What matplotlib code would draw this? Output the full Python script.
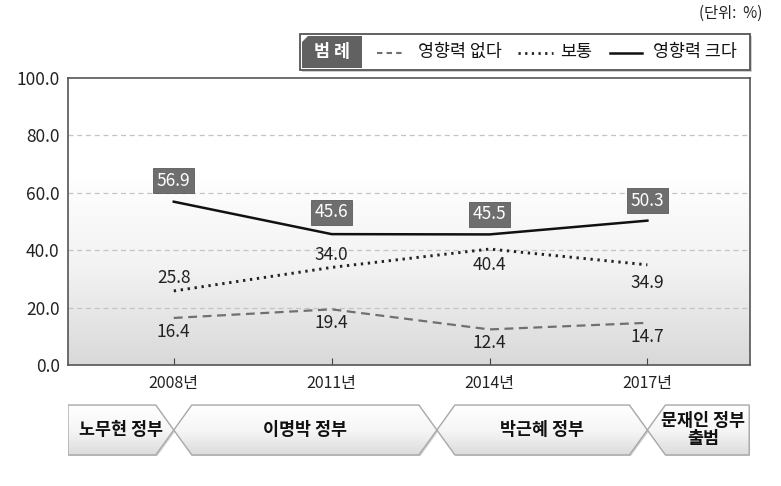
import numpy as np
import matplotlib
matplotlib.use("Agg")
import matplotlib.pyplot as plt
from matplotlib.patches import Polygon, Rectangle
from matplotlib.lines import Line2D
from matplotlib.colors import LinearSegmentedColormap

# =========================
# Data
# =========================
years = ["2008년", "2011년", "2014년", "2017년"]
no_influence = [16.4, 19.4, 12.4, 14.7]     # 영향력 없다
neutral = [25.8, 34.0, 40.4, 34.9]          # 보통
big_influence = [56.9, 45.6, 45.5, 50.3]    # 영향력 크다

series_names = ["영향력 없다", "보통", "영향력 크다"]

# government periods (year of start) for the strip under the chart
era_names = ["노무현 정부", "이명박 정부", "박근혜 정부", "문재인 정부\n출범"]
era_bounds = [2006, 2008, 2013, 2017, 2019.1]

# =========================
# Settings
# =========================
plt.rcParams["font.family"] = ["Noto Sans CJK KR", "DejaVu Sans"]
W, H = 781, 486
fig = plt.figure(figsize=(W / 100, H / 100), dpi=100)

def fx(px):
    return px / W

def fy(py):
    return 1 - py / H

ax_l, ax_r, ax_t, ax_b = 68, 750, 78, 365
ax = fig.add_axes([fx(ax_l), fy(ax_b), fx(ax_r - ax_l), (ax_b - ax_t) / H])

x = np.arange(len(years))
xlim = (-0.67, 3.65)
ax.set_xlim(*xlim)
ax.set_ylim(0, 100)

# background gradient white -> light gray
bg_cmap = LinearSegmentedColormap.from_list("bg", ["#ffffff", "#ffffff", "#f2f2f2", "#d9d9d9"])
grad = np.linspace(0, 1, 256).reshape(-1, 1)
ax.imshow(grad, extent=[xlim[0], xlim[1], 0, 100], aspect="auto",
          cmap=bg_cmap, origin="upper", zorder=0)

for yv in [20, 40, 60, 80]:
    ax.axhline(yv, color="#c4c4c4", lw=0.9, ls=(0, (4, 3)), zorder=1)

ax.plot(x, no_influence, color="#707070", lw=1.6, ls=(0, (4, 2.5)), zorder=3)
ax.plot(x, neutral, color="#222222", lw=2.1, ls=(0, (0.8, 1.6)), zorder=3)
ax.plot(x, big_influence, color="#111111", lw=1.8, ls="-", zorder=3)

# value labels
px2pt = 72 / 100
fs_val = 12.5
for i, v in enumerate(no_influence):
    ax.annotate(f"{v:.1f}", (x[i], v), xytext=(0, -14 * px2pt), textcoords="offset points",
                ha="center", va="center", fontsize=fs_val, color="#222222", zorder=4)

neutral_off = [13, 12, -16, -18]
for i, v in enumerate(neutral):
    ax.annotate(f"{v:.1f}", (x[i], v), xytext=(0, neutral_off[i] * px2pt), textcoords="offset points",
                ha="center", va="center", fontsize=fs_val, color="#222222", zorder=4)

big_off = [21, 22, 20, 20]
for i, v in enumerate(big_influence):
    ax.annotate(f"{v:.1f}", (x[i], v), xytext=(0, big_off[i] * px2pt), textcoords="offset points",
                ha="center", va="center", fontsize=fs_val, color="white", zorder=5,
                bbox=dict(boxstyle="square,pad=0.2", fc="#6e6e6e", ec="#5a5a5a", lw=0.6))

ax.set_xticks(x)
ax.set_xticklabels(years, fontsize=11.5, color="#222222")
ax.set_yticks([0, 20, 40, 60, 80, 100])
ax.set_yticklabels([f"{v:.1f}" for v in [0, 20, 40, 60, 80, 100]], fontsize=12.5, color="#222222")
ax.tick_params(axis="x", direction="in", length=5, color="#444444", pad=7)
ax.tick_params(axis="y", length=0, pad=6)
for sp in ax.spines.values():
    sp.set_color("#555555")
    sp.set_linewidth(1.2)

# =========================
# Government period strip
# =========================
bx = fig.add_axes([fx(ax_l), fy(456), fx(ax_r - ax_l), 52 / H])
bx.set_xlim(*xlim)
bx.set_ylim(0, 1)
bx.axis("off")

def yr2x(yr):
    return (yr - 2008) / 3

depth = 18 / ((ax_r - ax_l) / (xlim[1] - xlim[0]))
box_cmap = LinearSegmentedColormap.from_list("box", ["#ffffff", "#f6f6f6", "#dcdcdc"])
n_era = len(era_names)
for k in range(n_era):
    x0 = yr2x(era_bounds[k])
    x1 = yr2x(era_bounds[k + 1])
    if k == 0:
        x0 = xlim[0]
    if k == n_era - 1:
        x1 = xlim[1] - 0.005
    pts = []
    if k == 0:
        pts += [(x0, 0.02), (x0, 0.98)]
    else:
        pts += [(x0 + depth, 0.02), (x0, 0.5), (x0 + depth, 0.98)]
    if k == n_era - 1:
        pts += [(x1, 0.98), (x1, 0.02)]
    else:
        pts += [(x1 - depth, 0.98), (x1, 0.5), (x1 - depth, 0.02)]
    shadow = Polygon([(px + 0.008, py - 0.03) for px, py in pts], closed=True,
                     fc="#d0d0d0", ec="none", zorder=1)
    bx.add_patch(shadow)
    poly = Polygon(pts, closed=True, fc="none", ec="#a8a8a8", lw=1.0, zorder=3)
    bx.add_patch(poly)
    im = bx.imshow(grad, extent=[x0, x1, 0.02, 0.98], aspect="auto", cmap=box_cmap,
                   origin="upper", zorder=2)
    im.set_clip_path(poly)
    bx.text((x0 + x1) / 2 + (0.03 if k == n_era - 1 else 0), 0.5, era_names[k],
            ha="center", va="center", fontsize=12.5, fontweight="bold", color="#111111",
            linespacing=1.05, zorder=4)

# =========================
# Legend (drawn by hand)
# =========================
lg_l, lg_r, lg_t, lg_b = 300, 750, 34, 70
fig.patches.append(Rectangle((fx(lg_l + 2), fy(lg_b + 2)), fx(lg_r - lg_l), (lg_b - lg_t) / H,
                             transform=fig.transFigure, fc="#cfcfcf", ec="none", zorder=1))
fig.patches.append(Rectangle((fx(lg_l), fy(lg_b)), fx(lg_r - lg_l), (lg_b - lg_t) / H,
                             transform=fig.transFigure, fc="white", ec="#555555", lw=1.3, zorder=2))
cut = 6
head = [(lg_l + 2, lg_b - 2), (lg_l + 2, lg_t + 2 + cut), (lg_l + 2 + cut, lg_t + 2),
        (362, lg_t + 2), (362, lg_b - 2)]
fig.patches.append(Polygon([(fx(a), fy(b)) for a, b in head], closed=True,
                           transform=fig.transFigure, fc="#616161", ec="none", zorder=3))
fig.text(fx(332), fy(52), "범 례", ha="center", va="center", fontsize=12.5,
         fontweight="bold", color="white", zorder=4)

leg_styles = [
    dict(color="#707070", lw=1.5, ls=(0, (2.6, 2.0))),
    dict(color="#222222", lw=2.0, ls=(0, (0.8, 1.6))),
    dict(color="#111111", lw=1.8, ls="-"),
]
leg_line_x = [(377, 405), (518, 553), (610, 642)]
leg_text_x = [418, 560, 653]
for k, name in enumerate(series_names):
    a, b = leg_line_x[k]
    fig.lines.append(Line2D([fx(a), fx(b)], [fy(53), fy(53)], transform=fig.transFigure,
                            zorder=4, **leg_styles[k]))
    fig.text(fx(leg_text_x[k]), fy(52), name, ha="left", va="center", fontsize=12.5,
             color="#111111", zorder=4)

fig.text(fx(762), fy(13), "(단위:  %)", ha="right", va="center", fontsize=11, color="#222222")

fig.savefig("out.png", dpi=100)
